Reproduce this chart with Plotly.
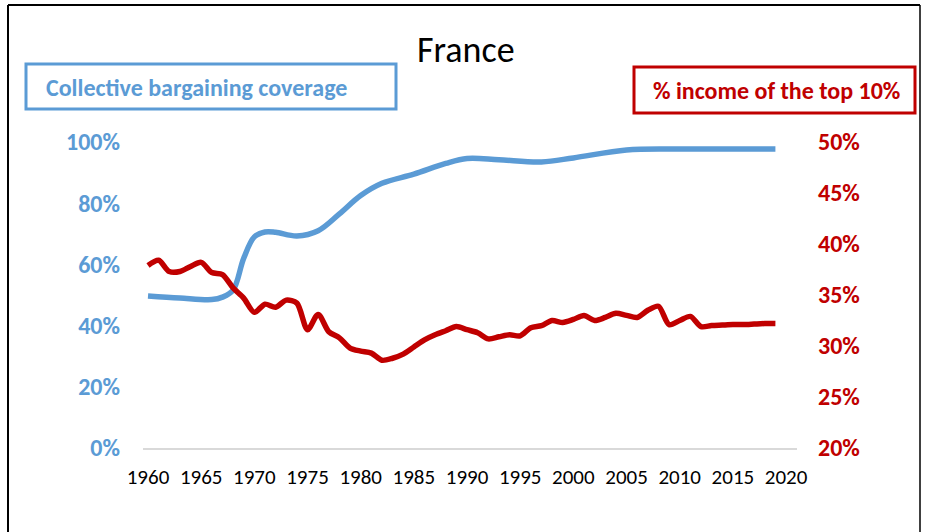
import plotly.graph_objects as go

# Collective bargaining coverage (%), left axis
cb_years = [1960, 1963, 1966, 1967, 1968, 1969, 1970, 1971, 1972, 1974, 1976, 1978, 1980,
            1982, 1985, 1988, 1990, 1993, 1997, 2000, 2005, 2010, 2015, 2017, 2019]
cb_values = [49.7, 49.0, 48.5, 49.3, 51.6, 62.0, 69.0, 70.6, 70.5, 69.3, 71.0, 76.5, 82.5,
             86.5, 89.5, 93.0, 94.6, 94.2, 93.5, 94.8, 97.4, 97.7, 97.7, 97.7, 97.7]

# Share of income of the top 10% (%), right axis
top_years = list(range(1960, 2020))
top_values = [37.9, 38.4, 37.3, 37.3, 37.8, 38.2, 37.2, 37.0, 35.7, 34.7,
              33.3, 34.1, 33.8, 34.5, 34.2, 31.6, 33.1, 31.4, 30.8, 29.8,
              29.5, 29.3, 28.6, 28.8, 29.2, 29.9, 30.6, 31.1, 31.5, 31.9,
              31.6, 31.3, 30.7, 30.9, 31.1, 31.0, 31.8, 32.0, 32.5, 32.3,
              32.6, 33.0, 32.5, 32.8, 33.2, 33.0, 32.8, 33.5, 33.9, 32.1,
              32.5, 32.9, 31.9, 32.0, 32.05, 32.1, 32.1, 32.15, 32.2, 32.2]

x_ticks = list(range(1960, 2021, 5))
left_ticks = [0, 20, 40, 60, 80, 100]
left_labels = ["0%", "20%", "40%", "60%", "80%", "100%"]
right_ticks = [20, 25, 30, 35, 40, 45, 50]
right_labels = ["20%", "25%", "30%", "35%", "40%", "45%", "50%"]

BLUE = "#5B9BD5"
RED = "#C00000"
FONT = "Carlito, Calibri, Liberation Sans Narrow, DejaVu Sans Condensed, Arial Narrow, sans-serif"

W, H = 928, 532
L, R, T, B = 143, 131, 142, 84
pw, ph = W - L - R, H - T - B


def px(x):
    return (x - L) / pw


def py(y):
    return (H - B - y) / ph


fig = go.Figure()
fig.add_trace(go.Scatter(x=cb_years, y=cb_values, mode="lines",
                         line=dict(color=BLUE, width=5.5, shape="spline", smoothing=1.0),
                         showlegend=False, hoverinfo="skip"))
fig.add_trace(go.Scatter(x=top_years, y=top_values, mode="lines", yaxis="y2",
                         line=dict(color=RED, width=5.5, shape="spline", smoothing=0.8),
                         showlegend=False, hoverinfo="skip"))

shapes = [
    # outer frame
    dict(type="line", xref="paper", yref="paper", x0=px(8), x1=px(920), y0=py(5), y1=py(5),
         line=dict(color="black", width=2)),
    dict(type="line", xref="paper", yref="paper", x0=px(8), x1=px(8), y0=py(5), y1=py(540),
         line=dict(color="black", width=2)),
    dict(type="line", xref="paper", yref="paper", x0=px(920), x1=px(920), y0=py(5), y1=py(540),
         line=dict(color="black", width=1.5)),
    # legend boxes
    dict(type="rect", xref="paper", yref="paper", x0=px(26), x1=px(396), y0=py(64), y1=py(109),
         line=dict(color=BLUE, width=3)),
    dict(type="rect", xref="paper", yref="paper", x0=px(634), x1=px(915), y0=py(67), y1=py(113),
         line=dict(color=RED, width=3)),
]

annotations = [
    dict(text="France", xref="paper", yref="paper", x=px(466), y=py(50),
         showarrow=False, font=dict(family=FONT, size=36, color="black"),
         xanchor="center", yanchor="middle"),
    dict(text="<b>Collective bargaining coverage</b>", xref="paper", yref="paper",
         x=px(44), y=py(87), showarrow=False, xanchor="left", yanchor="middle",
         font=dict(family=FONT, size=24, color=BLUE)),
    dict(text="<b>% income of the top 10%</b>", xref="paper", yref="paper",
         x=px(776), y=py(91), showarrow=False, xanchor="center", yanchor="middle",
         font=dict(family=FONT, size=24, color=RED)),
]

fig.update_layout(
    width=W, height=H,
    margin=dict(l=L, r=R, t=T, b=B, pad=0),
    paper_bgcolor="white", plot_bgcolor="white",
    shapes=shapes, annotations=annotations,
    xaxis=dict(range=[1959.53, 2021.03], tickvals=x_ticks, showgrid=False, zeroline=False,
               showline=True, linecolor="#D9D9D9", linewidth=2, ticks="",
               ticklabelstandoff=9,
               tickfont=dict(family=FONT, size=21, color="black")),
    yaxis=dict(range=[0, 100], tickvals=left_ticks, ticktext=left_labels, showgrid=False,
               zeroline=False, showline=False, ticks="", ticklabelstandoff=22,
               tickfont=dict(family=FONT, size=24, color=BLUE, weight="bold")),
    yaxis2=dict(range=[20, 50], tickvals=right_ticks, ticktext=right_labels, overlaying="y",
                side="right", showgrid=False, zeroline=False, showline=False, ticks="",
                ticklabelstandoff=20,
                tickfont=dict(family=FONT, size=24, color=RED, weight="bold")),
)

fig.write_html("out.html", config={"displayModeBar": False},
               post_script="document.body.style.margin='0';")
